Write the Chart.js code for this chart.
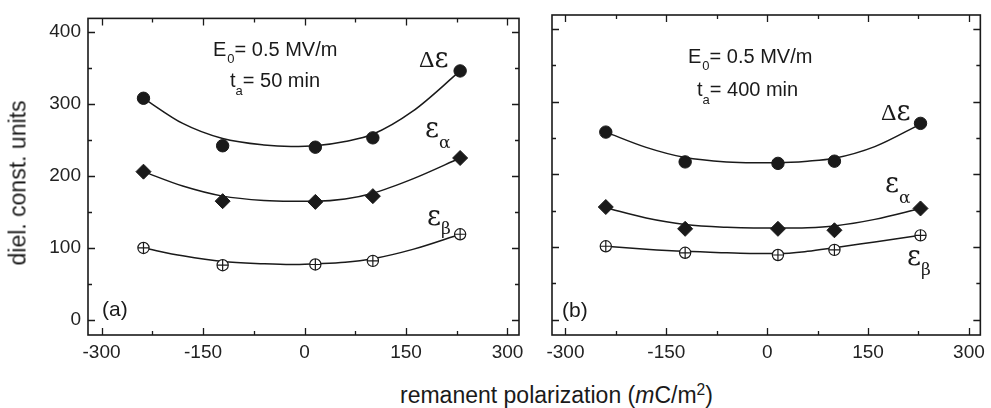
<!DOCTYPE html>
<html>
<head>
<meta charset="utf-8">
<script src="https://cdn.jsdelivr.net/npm/chart.js@4/dist/chart.umd.min.js"></script>
<style>
  html, body { margin: 0; padding: 0; background: #fff; }
  body { width: 991px; height: 408px; position: relative; overflow: hidden;
         font-family: "Liberation Sans", Arial, sans-serif; color: #1a1a1a; }
  .panel { position: absolute; top: 0; height: 370px; }
  #pa { left: 0; width: 530px; }
  #pb { left: 530px; width: 461px; }
  #ytitle { position: absolute; left: 18px; top: 183px; font-size: 23px; line-height: 23px;
            white-space: nowrap; transform: translate(-50%, -50%) rotate(-90deg); }
  #xtitle { position: absolute; left: 400px; top: 384px; font-size: 23px; line-height: 23px;
            white-space: nowrap; }
  #xtitle .sup { position: relative; top: -0.5em; font-size: 0.68em; }
</style>
</head>
<body>
<div class="panel" id="pa"><canvas id="chartA"></canvas></div>
<div class="panel" id="pb"><canvas id="chartB"></canvas></div>
<div id="ytitle">diel. const. units</div>
<div id="xtitle">remanent polarization (<i>m</i>C/m<span class="sup">2</span>)</div>

<script>
// ---- axis ticks ----
const xTicks = [-300, -150, 0, 150, 300];
const xMinorTicks = [-225, -75, 75, 225];
const yTicks = [0, 100, 200, 300, 400];
const yMinorTicks = [50, 150, 250, 350];

// ---- (a) t_a = 50 min: measured points ----
const polA = [-238, -121, 16, 101, 230];
const deltaEpsA = [308, 242, 240, 253, 346];
const epsAlphaA = [206, 165, 164, 172, 225];
const epsBetaA = [100, 76, 77, 82, 119];

// ---- (a) fitted curves ----
const fitPolA = [-238, -180, -121, -60, -20, 16, 60, 101, 160, 230];
const fitDeltaEpsA = [308, 273, 252, 243, 241, 242, 248, 258, 290, 346];
const fitEpsAlphaA = [206, 186, 172, 166, 165, 165, 168, 176, 196, 225];
const fitEpsBetaA = [100, 89, 81, 78, 77, 78, 80, 85, 98, 119];

// ---- (b) t_a = 400 min: measured points ----
const polB = [-240, -122, 16, 100, 228];
const deltaEpsB = [258, 217, 215, 218, 270];
const epsAlphaB = [155, 125, 125, 123, 153];
const epsBetaB = [101, 92, 89, 96, 116];

// ---- (b) fitted curves ----
const fitPolB = [-240, -180, -122, -60, -20, 16, 60, 100, 160, 228];
const fitDeltaEpsB = [258, 237, 223, 217, 216, 216, 218, 222, 238, 269];
const fitEpsAlphaB = [154, 140, 131, 127, 126, 126, 126.5, 129, 138, 153];
const fitEpsBetaB = [101, 97, 94, 92, 91, 91, 94, 99, 107, 116];

const INK = '#1a1a1a';
const SANS = '"Liberation Sans", Arial, sans-serif';
const SERIF = '"Liberation Serif", "Times New Roman", serif';
const GSERIF = '"DejaVu Serif", "Liberation Serif", serif';

const pts = (xs, ys) => xs.map((x, i) => ({ x, y: ys[i] }));

function curve(xs, ys) {
  return { data: pts(xs, ys), showLine: true, pointRadius: 0, borderColor: INK,
           borderWidth: 1.5, cubicInterpolationMode: 'monotone', fill: false };
}
function markers(xs, ys, style, radius, fillColor, bw) {
  return { data: pts(xs, ys), showLine: false, pointStyle: style, pointRadius: radius,
           backgroundColor: fillColor, borderColor: INK, borderWidth: bw };
}

// frame box plus inward major/minor ticks on all four sides
const frameTicks = {
  id: 'frameTicks',
  afterDraw(chart) {
    const { ctx, chartArea: a, scales: { x, y } } = chart;
    ctx.save();
    ctx.strokeStyle = INK;
    ctx.lineWidth = 1.3;
    ctx.beginPath();
    const vt = (v, len) => {
      const px = Math.round(x.getPixelForValue(v)) + 0.5;
      ctx.moveTo(px, a.bottom); ctx.lineTo(px, a.bottom - len);
      ctx.moveTo(px, a.top); ctx.lineTo(px, a.top + len);
    };
    const ht = (v, len) => {
      const py = Math.round(y.getPixelForValue(v)) + 0.5;
      ctx.moveTo(a.left, py); ctx.lineTo(a.left + len, py);
      ctx.moveTo(a.right, py); ctx.lineTo(a.right - len, py);
    };
    xTicks.forEach(v => vt(v, 7));
    xMinorTicks.forEach(v => vt(v, 4));
    yTicks.forEach(v => ht(v, 7));
    yMinorTicks.forEach(v => ht(v, 4));
    ctx.stroke();
    ctx.lineWidth = 1.6;
    ctx.strokeRect(a.left, a.top, a.right - a.left, a.bottom - a.top);
    ctx.restore();
  }
};

// text annotations made of runs (main text, subscripts) starting at a baseline point
function notes(items) {
  return {
    id: 'notes',
    afterDraw(chart) {
      const ctx = chart.ctx;
      ctx.save();
      ctx.fillStyle = INK;
      ctx.textBaseline = 'alphabetic';
      ctx.textAlign = 'left';
      items.forEach(it => {
        let cx = it.x;
        it.runs.forEach(r => {
          ctx.font = r.font;
          cx += r.dx || 0;
          ctx.fillText(r.text, cx, it.y + (r.dy || 0));
          cx += ctx.measureText(r.text).width;
        });
      });
      ctx.restore();
    }
  };
}

const MAIN = '20px ' + SANS;
const SUB = '13px ' + SANS;
const DELTA = '24px ' + SERIF;
const EPS = '27px ' + GSERIF;
const GREEK_SUB = '17px ' + GSERIF;

function buildChart(id, cfg) {
  const datasets = [
    markers(cfg.pol, cfg.delta, 'circle', 6.2, INK, 1),
    markers(cfg.pol, cfg.alpha, 'rectRot', 7.5, INK, 1),
    markers(cfg.pol, cfg.beta, 'cross', 5.6, INK, 1.2),
    markers(cfg.pol, cfg.beta, 'circle', 5.6, '#ffffff', 1.2),
    curve(cfg.fitPol, cfg.fitDelta),
    curve(cfg.fitPol, cfg.fitAlpha),
    curve(cfg.fitPol, cfg.fitBeta)
  ];
  const tickFont = { family: SANS, size: 19 };
  return new Chart(document.getElementById(id), {
    type: 'scatter',
    data: { datasets },
    options: {
      responsive: true,
      maintainAspectRatio: false,
      animation: false,
      events: [],
      layout: { padding: cfg.padding },
      plugins: { legend: { display: false }, tooltip: { enabled: false } },
      scales: {
        x: {
          type: 'linear', min: -320, max: 317,
          afterBuildTicks: s => { s.ticks = xTicks.map(v => ({ value: v })); },
          afterFit: s => { s.height = 35; },
          grid: { display: false, drawTicks: false },
          border: { display: false },
          ticks: { padding: 6, font: tickFont, color: '#222', maxRotation: 0,
                   autoSkip: false, callback: v => String(v) }
        },
        y: {
          type: 'linear', min: -21, max: 419,
          afterBuildTicks: s => { s.ticks = yTicks.map(v => ({ value: v })); },
          afterFit: s => { s.width = cfg.yWidth; },
          grid: { display: false, drawTicks: false },
          border: { display: false },
          ticks: { display: cfg.yLabels, padding: 7, font: tickFont, color: '#222',
                   autoSkip: false, callback: v => String(v) }
        }
      }
    },
    plugins: [frameTicks, notes(cfg.notes)]
  });
}

buildChart('chartA', {
  pol: polA, delta: deltaEpsA, alpha: epsAlphaA, beta: epsBetaA,
  fitPol: fitPolA, fitDelta: fitDeltaEpsA, fitAlpha: fitEpsAlphaA, fitBeta: fitEpsBetaA,
  padding: { top: 16, right: 11, left: 0, bottom: 0 },
  yWidth: 88, yLabels: true,
  notes: [
    { x: 213, y: 56, runs: [{ text: 'E', font: MAIN }, { text: '0', font: SUB, dy: 7, dx: 1 },
                            { text: '= 0.5 MV/m', font: MAIN }] },
    { x: 230, y: 87, runs: [{ text: 't', font: MAIN }, { text: 'a', font: SUB, dy: 8 },
                            { text: '= 50 min', font: MAIN }] },
    { x: 419, y: 67, runs: [{ text: 'Δ', font: DELTA }, { text: 'ε', font: EPS, dx: 0 }] },
    { x: 425, y: 137, runs: [{ text: 'ε', font: EPS }, { text: 'α', font: GREEK_SUB, dy: 11, dx: 0 }] },
    { x: 427, y: 225, runs: [{ text: 'ε', font: EPS }, { text: 'β', font: GREEK_SUB, dy: 9, dx: 0 }] },
    { x: 102, y: 316, runs: [{ text: '(a)', font: '21px ' + SANS }] }
  ]
});

buildChart('chartB', {
  pol: polB, delta: deltaEpsB, alpha: epsAlphaB, beta: epsBetaB,
  fitPol: fitPolB, fitDelta: fitDeltaEpsB, fitAlpha: fitEpsAlphaB, fitBeta: fitEpsBetaB,
  padding: { top: 15, right: 2, left: 0, bottom: 0 },
  yWidth: 22, yLabels: false,
  notes: [
    { x: 158, y: 63, runs: [{ text: 'E', font: MAIN }, { text: '0', font: SUB, dy: 7, dx: 1 },
                            { text: '= 0.5 MV/m', font: MAIN }] },
    { x: 167, y: 96, runs: [{ text: 't', font: MAIN }, { text: 'a', font: SUB, dy: 8 },
                            { text: '= 400 min', font: MAIN }] },
    { x: 351, y: 120, runs: [{ text: 'Δ', font: DELTA }, { text: 'ε', font: EPS, dx: 0 }] },
    { x: 355, y: 192, runs: [{ text: 'ε', font: EPS }, { text: 'α', font: GREEK_SUB, dy: 11, dx: 0 }] },
    { x: 377, y: 265, runs: [{ text: 'ε', font: EPS }, { text: 'β', font: GREEK_SUB, dy: 10, dx: 0 }] },
    { x: 32, y: 317, runs: [{ text: '(b)', font: '21px ' + SANS }] }
  ]
});
</script>
</body>
</html>
